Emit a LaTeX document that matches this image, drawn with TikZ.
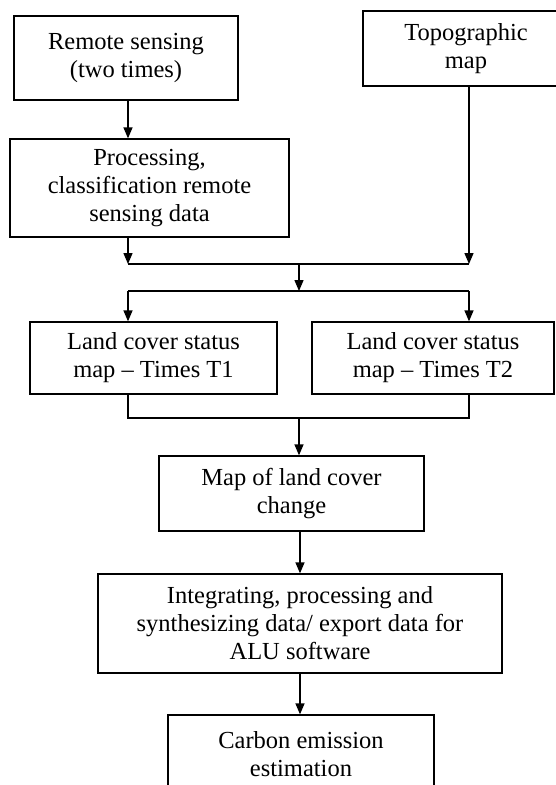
\documentclass[tikz,border=0pt]{standalone}
\usepackage{fontspec}
\setmainfont{Liberation Serif}
\usetikzlibrary{arrows.meta,calc,positioning}

\begin{document}
\begin{tikzpicture}[x=1pt,y=-1pt,
  stage/.style={draw,line width=1.3pt,align=center,inner sep=0pt,
                font=\fontsize{24.5}{28}\selectfont},
  flow/.style={line width=1.3pt},
  arr/.style={flow,-{Triangle[length=11pt,width=9pt]}}]
\clip (0,0) rectangle (556,785);
% boxes
\node[stage,minimum width=224pt,minimum height=84pt] (rs) at (126,58) {Remote sensing\\(two times)};
\node[stage,minimum width=206pt,minimum height=75pt] (topo) at (466,48.5) {Topographic\\map};
\node[stage,minimum width=279pt,minimum height=98pt] (proc) at (149.5,188) {Processing,\\classification remote\\sensing data};
\node[stage,minimum width=247pt,minimum height=72pt] (t1) at (153.5,358) {Land cover status\\map -- Times T1};
\node[stage,minimum width=242pt,minimum height=72pt] (t2) at (433,358) {Land cover status\\map -- Times T2};
\node[stage,minimum width=265pt,minimum height=75pt] (chg) at (291.5,493.5) {Map of land cover\\change};
\node[stage,minimum width=404pt,minimum height=99pt] (integ) at (300,623.5) {Integrating, processing and\\synthesizing data/ export data for\\ALU software};
\node[stage,minimum width=266pt,minimum height=78pt] (carbon) at (301,754) {Carbon emission\\estimation};
% stems and junctions
\coordinate (cl) at (128,0);
\coordinate (cr) at (469,0);
\coordinate (j1) at (299,264);
\coordinate (j2) at (299,291);
\coordinate (j3) at (299,418);
% connectors
\draw[arr] (rs.south -| cl) -- (proc.north -| cl);
\draw[arr] (proc.south -| cl) -- (j1 -| cl);
\draw[arr] (topo.south -| cr) -- (j1 -| cr);
\draw[flow] (j1 -| cl) -- (j1 -| cr);
\draw[arr] (j1) -- (j2);
\draw[flow] (j2 -| cl) -- (j2 -| cr);
\draw[arr] (j2 -| cl) -- (t1.north -| cl);
\draw[arr] (j2 -| cr) -- (t2.north -| cr);
\draw[flow] (t1.south -| cl) |- (j3);
\draw[flow] (t2.south -| cr) |- (j3);
\draw[arr] (j3) -- (chg.north -| j3);
\draw[arr] (chg.south -| integ) -- (integ.north);
\draw[arr] (integ.south) -- (carbon.north -| integ.south);
\end{tikzpicture}
\end{document}
